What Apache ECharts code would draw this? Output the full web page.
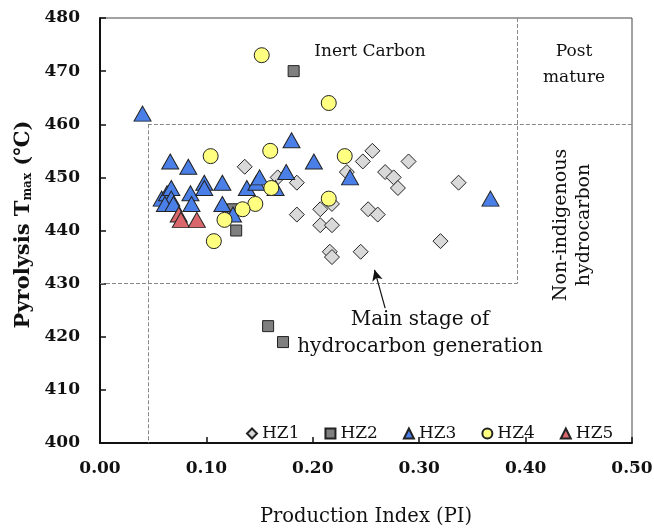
<!DOCTYPE html>
<html><head><meta charset="utf-8">
<script src="https://cdn.jsdelivr.net/npm/echarts@6/dist/echarts.min.js"></script>
<style>html,body{margin:0;padding:0;background:#fff}#c{width:654px;height:529px}</style>
</head><body><div id="c"></div>
<script>
const hz1 = [[0.136,452],[0.167,450],[0.185,449],[0.185,443],[0.207,444],[0.207,441],[0.218,445],[0.218,441],[0.216,436],[0.218,435],[0.232,451],[0.245,436],[0.247,453],[0.256,455],[0.252,444],[0.261,443],[0.268,451],[0.276,450],[0.280,448],[0.290,453],[0.337,449],[0.320,438]];
const hz2 = [[0.182,470],[0.125,444],[0.128,440],[0.158,422],[0.172,419]];
const hz3 = [[0.040,462],[0.066,453],[0.083,452],[0.058,446],[0.063,447],[0.067,448],[0.067,446],[0.061,445],[0.069,445],[0.085,447],[0.086,445],[0.098,449],[0.098,448],[0.115,449],[0.115,445],[0.125,443],[0.138,448],[0.147,449],[0.150,450],[0.165,448],[0.175,451],[0.180,457],[0.201,453],[0.235,450],[0.367,446]];
const hz4 = [[0.152,473],[0.215,464],[0.104,454],[0.160,455],[0.230,454],[0.161,448],[0.215,446],[0.146,445],[0.134,444],[0.117,442],[0.107,438]];
const hz5 = [[0.074,443],[0.076,442],[0.091,442]];
const xTicks = [0, 0.1, 0.2, 0.3, 0.4, 0.5];
const yTicks = [400, 410, 420, 430, 440, 450, 460, 470, 480];
// region boundaries
const piLow = 0.045, piHigh = 0.392, tLow = 430, tHigh = 460;

const serif = 'DejaVu Serif';
const chart = echarts.init(document.getElementById('c'));
const dash = {type:'dashed', color:'#888', width:1};
function sc(name, data, symbol, size, color){
  return {name, type:'scatter', data, symbol, symbolSize:size,
    itemStyle:{color, borderColor:'#222', borderWidth:1, opacity:1}};
}
chart.setOption({
  animation:false,
  grid:{left:100, right:22, top:18, bottom:86, show:true, borderColor:'#444', borderWidth:1,
    containLabel:false, outerBoundsMode:'none'},
  xAxis:{type:'value', min:0, max:0.5, interval:0.1,
    axisLine:{show:true, lineStyle:{color:'#111', width:2}},
    axisTick:{show:true, inside:true, length:6, lineStyle:{color:'#111', width:1.5}},
    splitLine:{show:false},
    axisLabel:{fontFamily:serif, fontWeight:'bold', fontSize:17, color:'#111', margin:17,
      formatter:v=>v.toFixed(2)},
    name:'Production Index (PI)', nameLocation:'middle', nameGap:64,
    nameTextStyle:{fontFamily:serif, fontSize:19.5, color:'#111'}},
  yAxis:{type:'value', min:400, max:480, interval:10,
    axisLine:{show:true, lineStyle:{color:'#111', width:2}},
    axisTick:{show:true, inside:true, length:6, lineStyle:{color:'#111', width:1.5}},
    splitLine:{show:false},
    axisLabel:{fontFamily:serif, fontWeight:'bold', fontSize:17, color:'#111', margin:20},
    name:'{a|Pyrolysis T}{b|max}{a| (℃)}', nameLocation:'middle', nameGap:66,
    nameTextStyle:{fontFamily:serif, fontWeight:'bold', fontSize:21, color:'#111', padding:[0,0,0,12],
      rich:{a:{fontFamily:serif, fontWeight:'bold', fontSize:21, color:'#111'},
            b:{fontFamily:serif, fontWeight:'bold', fontSize:12, color:'#111', padding:[9,0,0,0]}}}},
  legend:{left:241, top:420, itemWidth:10, itemHeight:10, itemGap:25,
    textStyle:{fontFamily:serif, fontSize:17, color:'#111'},
    data:['HZ1','HZ2','HZ3','HZ4','HZ5']},
  series:[
    sc('HZ1', hz1, 'diamond', [15,15], '#d9d9d9'),
    sc('HZ2', hz2, 'rect', [11,11], '#7f7f7f'),
    sc('HZ3', hz3, 'triangle', [17,15], '#4a7fe8'),
    sc('HZ4', hz4, 'circle', 15, '#ffff80'),
    sc('HZ5', hz5, 'triangle', [17,15], '#d9676b'),
    {type:'line', data:[], silent:true,
      markLine:{silent:true, symbol:['none','none'], label:{show:false}, lineStyle:dash, animation:false,
        data:[
          [{coord:[piLow, tHigh]},{coord:[piLow, 400]}],
          [{coord:[piLow, tHigh]},{coord:[0.5, tHigh]}],
          [{coord:[piHigh, 480]},{coord:[piHigh, tLow]}],
          [{coord:[0, tLow]},{coord:[piHigh, tLow]}]
        ]}},
    {type:'line', data:[], silent:true,
      markLine:{silent:true, symbol:['none','arrow'], symbolSize:[8,11], label:{show:false},
        lineStyle:{type:'solid', color:'#111', width:1.2}, animation:false,
        data:[[{coord:[0.268,425.4]},{coord:[0.258,432.6]}]]}}
  ],
  graphic:[
    {type:'text', style:{text:'Inert Carbon', x:370, y:52, align:'center', verticalAlign:'middle', font:'17px "DejaVu Serif"', fill:'#111'}},
    {type:'text', style:{text:'Post\nmature', x:574, y:65, align:'center', verticalAlign:'middle', lineHeight:26, font:'17px "DejaVu Serif"', fill:'#111'}},
    {type:'text', x:573, y:225, rotation:Math.PI/2, style:{text:'Non-indigenous\nhydrocarbon', x:0, y:0, align:'center', verticalAlign:'middle', lineHeight:23, font:'19px "DejaVu Serif"', fill:'#111'}},
    {type:'text', style:{text:'Main stage of\nhydrocarbon generation', x:420, y:333, align:'center', verticalAlign:'middle', lineHeight:27, font:'20px "DejaVu Serif"', fill:'#111'}}
  ]
});
</script></body></html>
